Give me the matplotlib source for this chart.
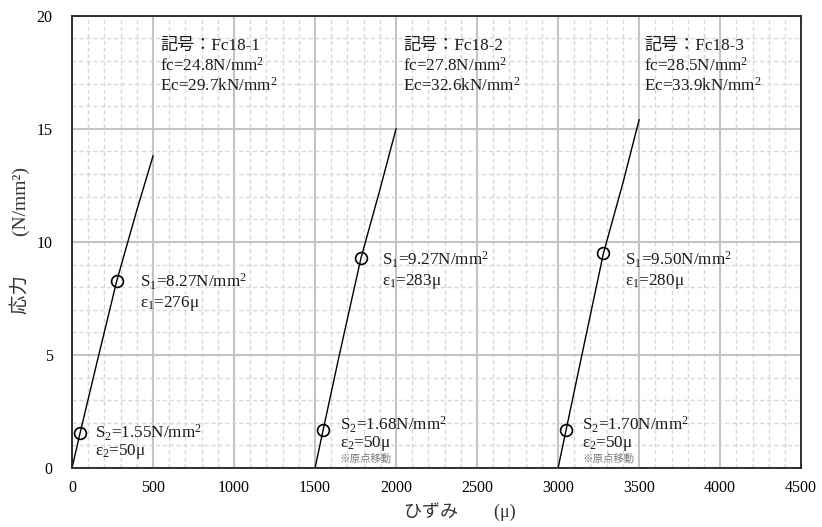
import numpy as np
import matplotlib
matplotlib.use("Agg")
import matplotlib.pyplot as plt
from matplotlib.ticker import MultipleLocator

plt.rcParams['font.family'] = ['Liberation Serif', 'Noto Sans CJK JP']
plt.rcParams['mathtext.fontset'] = 'custom'
plt.rcParams['mathtext.rm'] = 'Liberation Serif'
plt.rcParams['mathtext.it'] = 'Liberation Serif'
plt.rcParams['mathtext.default'] = 'regular'

# stress-strain curves (strain in micro, stress in N/mm2)
strain_1 = [0, 50, 150, 276, 400, 500]
stress_1 = [0, 1.55, 4.55, 8.27, 11.4, 13.8]
strain_2 = [1500, 1550, 1650, 1783, 1900, 2000]
stress_2 = [0, 1.68, 5.0, 9.27, 12.3, 15.0]
strain_3 = [3000, 3050, 3150, 3280, 3400, 3500]
stress_3 = [0, 1.70, 5.1, 9.50, 12.6, 15.4]

# S1 / S2 marker points
pt_x = [50, 276, 1550, 1783, 3050, 3280]
pt_y = [1.55, 8.27, 1.68, 9.27, 1.70, 9.50]

names = ["記号：Fc18-1", "記号：Fc18-2", "記号：Fc18-3"]
fc = ["24.8", "27.8", "28.5"]
ec = ["29.7", "32.6", "33.9"]
s1 = ["8.27", "9.27", "9.50"]
e1 = ["276", "283", "280"]
s2 = ["1.55", "1.68", "1.70"]

fig = plt.figure(figsize=(8.22, 5.27), dpi=100)
ax = fig.add_axes([0.0876, 0.112, 0.887, 0.858])

ax.plot(strain_1, stress_1, color='black', lw=1.0)
ax.plot(strain_2, stress_2, color='black', lw=1.0)
ax.plot(strain_3, stress_3, color='black', lw=1.0)
ax.plot(pt_x, pt_y, 'o', ms=8.5, mfc='none', mec='black', mew=1.2, ls='none')

ax.set_xlim(0, 4500)
ax.set_ylim(0, 20)
ax.xaxis.set_major_locator(MultipleLocator(500))
ax.xaxis.set_minor_locator(MultipleLocator(100))
ax.yaxis.set_major_locator(MultipleLocator(5))
ax.yaxis.set_minor_locator(MultipleLocator(1))
ax.grid(which='major', color='#c4c4c4', lw=1.5, ls='-')
ax.grid(which='minor', color='#d8d8d8', lw=1.0, ls=(0, (3, 2)))
ax.set_axisbelow(True)
ax.tick_params(which='both', length=0, labelsize=11.5)
ax.tick_params(axis='x', pad=9)
ax.tick_params(axis='y', pad=14)
for s in ax.spines.values():
    s.set_linewidth(1.3)
    s.set_color('#222222')

ax.set_xlabel("ひずみ　　(μ)", fontsize=13, color='#333333')
ax.xaxis.set_label_coords(0.532, -0.075)
ax.set_ylabel("応力　　(N/mm²)", fontsize=14, color='#333333')
ax.yaxis.set_label_coords(-0.058, 0.504)

fs = 12.3
tc = '#1a1a1a'
# header texts
hx = [543, 2043, 3531]
for i in range(3):
    ax.text(hx[i], 18.5, names[i], fontsize=fs, color=tc, va='baseline')
    ax.text(hx[i], 17.57, "fc=" + fc[i] + "N/mm$^2$", fontsize=fs, color=tc, va='baseline')
    ax.text(hx[i], 16.68, "Ec=" + ec[i] + "kN/mm$^2$", fontsize=fs, color=tc, va='baseline')

# S1 texts
s1x = [420, 1914, 3414]
s1y = [8.0, 8.98, 8.98]
for i in range(3):
    ax.text(s1x[i], s1y[i], "S$_1$=" + s1[i] + "N/mm$^2$", fontsize=fs, color=tc, va='baseline')
    ax.text(s1x[i], s1y[i] - 0.88, "ε$_1$=" + e1[i] + "μ", fontsize=fs, color=tc, va='baseline')

# S2 texts
s2x = [142, 1654, 3148]
s2y = [1.33, 1.68, 1.68]
for i in range(3):
    ax.text(s2x[i], s2y[i], "S$_2$=" + s2[i] + "N/mm$^2$", fontsize=fs, color=tc, va='baseline')
    ax.text(s2x[i], s2y[i] - 0.75, "ε$_2$=50μ", fontsize=fs, color=tc, va='baseline')
    if i > 0:
        ax.text(s2x[i], 0.27, "※原点移動", fontsize=7.5, color='#777777', va='baseline')

fig.savefig("out.png", dpi=100)
